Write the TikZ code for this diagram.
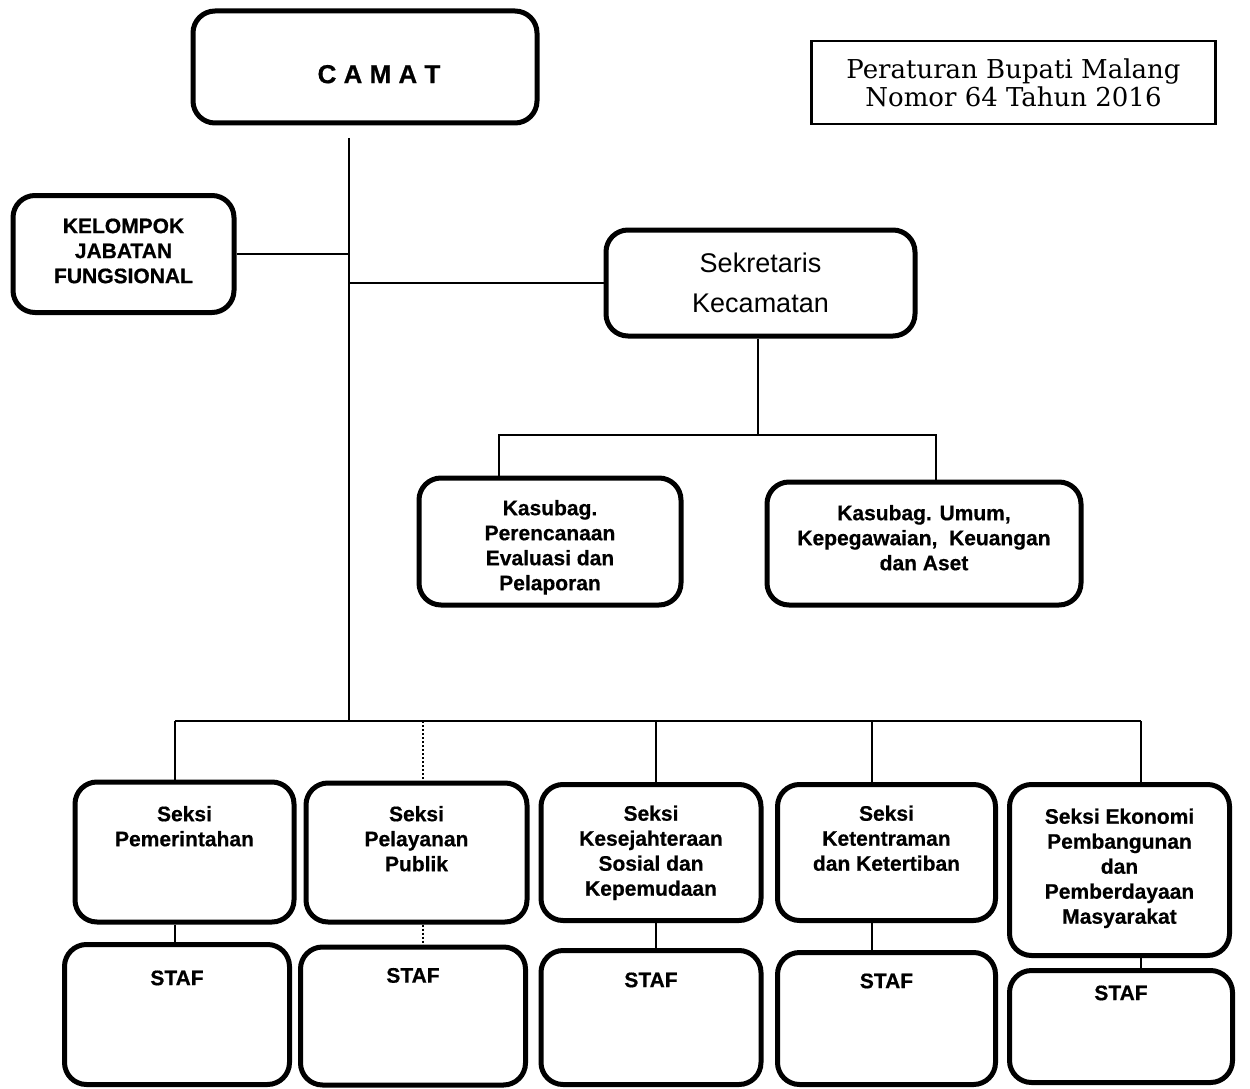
\documentclass[tikz,border=0pt]{standalone}
\usepackage{fontspec}
\setmainfont{Liberation Sans}[BoldFeatures={FakeBold=0.6}]
\newfontfamily\rulefont{DejaVu Serif}
\usepackage{tikz}

\newcommand{\boxtext}[4][24pt]{\parbox[c][#2][t]{#3}{\centering\vspace*{#1}#4\par}}

\tikzset{
    unit/.style={draw, rectangle, rounded corners=22pt, line width=5pt, inner sep=0pt, font=\bfseries\fontsize{21}{25}\selectfont},
    head/.style={unit, font=\bfseries\fontsize{26}{30}\selectfont},
    sekre/.style={unit, align=center, minimum width=309pt, minimum height=106pt, font=\fontsize{27}{40}\selectfont},
    note/.style={draw, rectangle, line width=2.5pt, inner sep=0pt, align=center, minimum width=404pt, minimum height=83pt, font=\rulefont\fontsize{26}{28}\selectfont},
    link/.style={line width=2pt},
    dotlink/.style={line width=2pt, dotted}
}

\begin{document}
\begin{tikzpicture}[x=1pt, y=-1pt]
\useasboundingbox (0,0) rectangle (1250,1089);

\node [head]  (camat)    at (365,67)      {\boxtext[54pt]{112pt}{344pt}{\hspace*{28pt}C A M A T}};
\node [note]  (perbup)   at (1013.5,82.5) {Peraturan Bupati Malang\\Nomor 64 Tahun 2016};
\node [unit]  (jabfung)  at (123.5,254)   {\boxtext[23pt]{117pt}{221pt}{KELOMPOK\\JABATAN\\FUNGSIONAL}};
\node [sekre] (sekcam)   at (760.5,283)   {Sekretaris\\Kecamatan};
\node [unit]  (subbagpe) at (550,541.5)   {\boxtext[22pt]{127pt}{262pt}{Kasubag.\\Perencanaan\\Evaluasi dan\\Pelaporan}};
\node [unit]  (subbagum) at (924,543.5)   {\boxtext[23pt]{123pt}{314pt}{Kasubag. Umum,\\Kepegawaian, \ Keuangan\\dan Aset}};

\node [unit]  (pem)      at (184.5,852)   {\boxtext[24pt]{140pt}{219pt}{Seksi\\Pemerintahan}};
\node [unit]  (pel)      at (416.5,852.5) {\boxtext[23pt]{139pt}{221pt}{Seksi\\Pelayanan\\Publik}};
\node [unit]  (kesos)    at (651,852.5)   {\boxtext[21pt]{136pt}{220pt}{Seksi\\Kesejahteraan\\Sosial dan\\Kepemudaan}};
\node [unit]  (trantib)  at (886.5,852.5) {\boxtext[21pt]{136pt}{218pt}{Seksi\\Ketentraman\\dan Ketertiban}};
\node [unit]  (ekbang)   at (1119.5,870)  {\boxtext[24pt]{171pt}{220pt}{Seksi Ekonomi\\Pembangunan\\dan\\Pemberdayaan\\Masyarakat}};

\node [unit]  (staf1)    at (177,1014.5)  {\boxtext[26pt]{140pt}{225pt}{STAF}};
\node [unit]  (staf2)    at (413,1016)    {\boxtext[21pt]{138pt}{225pt}{STAF}};
\node [unit]  (staf3)    at (651,1017.5)  {\boxtext[22pt]{134pt}{220pt}{STAF}};
\node [unit]  (staf4)    at (886.5,1018.5){\boxtext[21pt]{132pt}{218pt}{STAF}};
\node [unit]  (staf5)    at (1121,1026.5) {\boxtext[15pt]{112pt}{223pt}{STAF}};

\coordinate (top)      at (349,138);
\coordinate (bus)      at (349,721);
\coordinate (sekmid)   at (757.5,435);
\coordinate (sekleft)  at (499,435);
\coordinate (sekright) at (936,435);
\coordinate (b1)       at (175,721);
\coordinate (b2)       at (423,721);
\coordinate (b3)       at (656,721);
\coordinate (b4)       at (872,721);
\coordinate (b5)       at (1141,721);

\draw [link] (top) to (bus);
\draw [link] (jabfung.east) to (jabfung.east -| top);
\draw [link] (top |- sekcam.west) to (sekcam.west);
\draw [link] (sekcam.south -| sekmid) to (sekmid);
\draw [link] (sekleft |- subbagpe.north) -- (sekleft) -- (sekright) -- (sekright |- subbagum.north);

\draw [link] (b1) to (b5);
\draw [link] (b1) to (b1 |- pem.north);
\draw [dotlink] (b2) to (b2 |- pel.north);
\draw [link] (b3) to (b3 |- kesos.north);
\draw [link] (b4) to (b4 |- trantib.north);
\draw [link] (b5) to (b5 |- ekbang.north);

\draw [link] (b1 |- pem.south) to (b1 |- staf1.north);
\draw [dotlink] (b2 |- pel.south) to (b2 |- staf2.north);
\draw [link] (b3 |- kesos.south) to (b3 |- staf3.north);
\draw [link] (b4 |- trantib.south) to (b4 |- staf4.north);
\draw [link] (b5 |- ekbang.south) to (b5 |- staf5.north);

\end{tikzpicture}
\end{document}
